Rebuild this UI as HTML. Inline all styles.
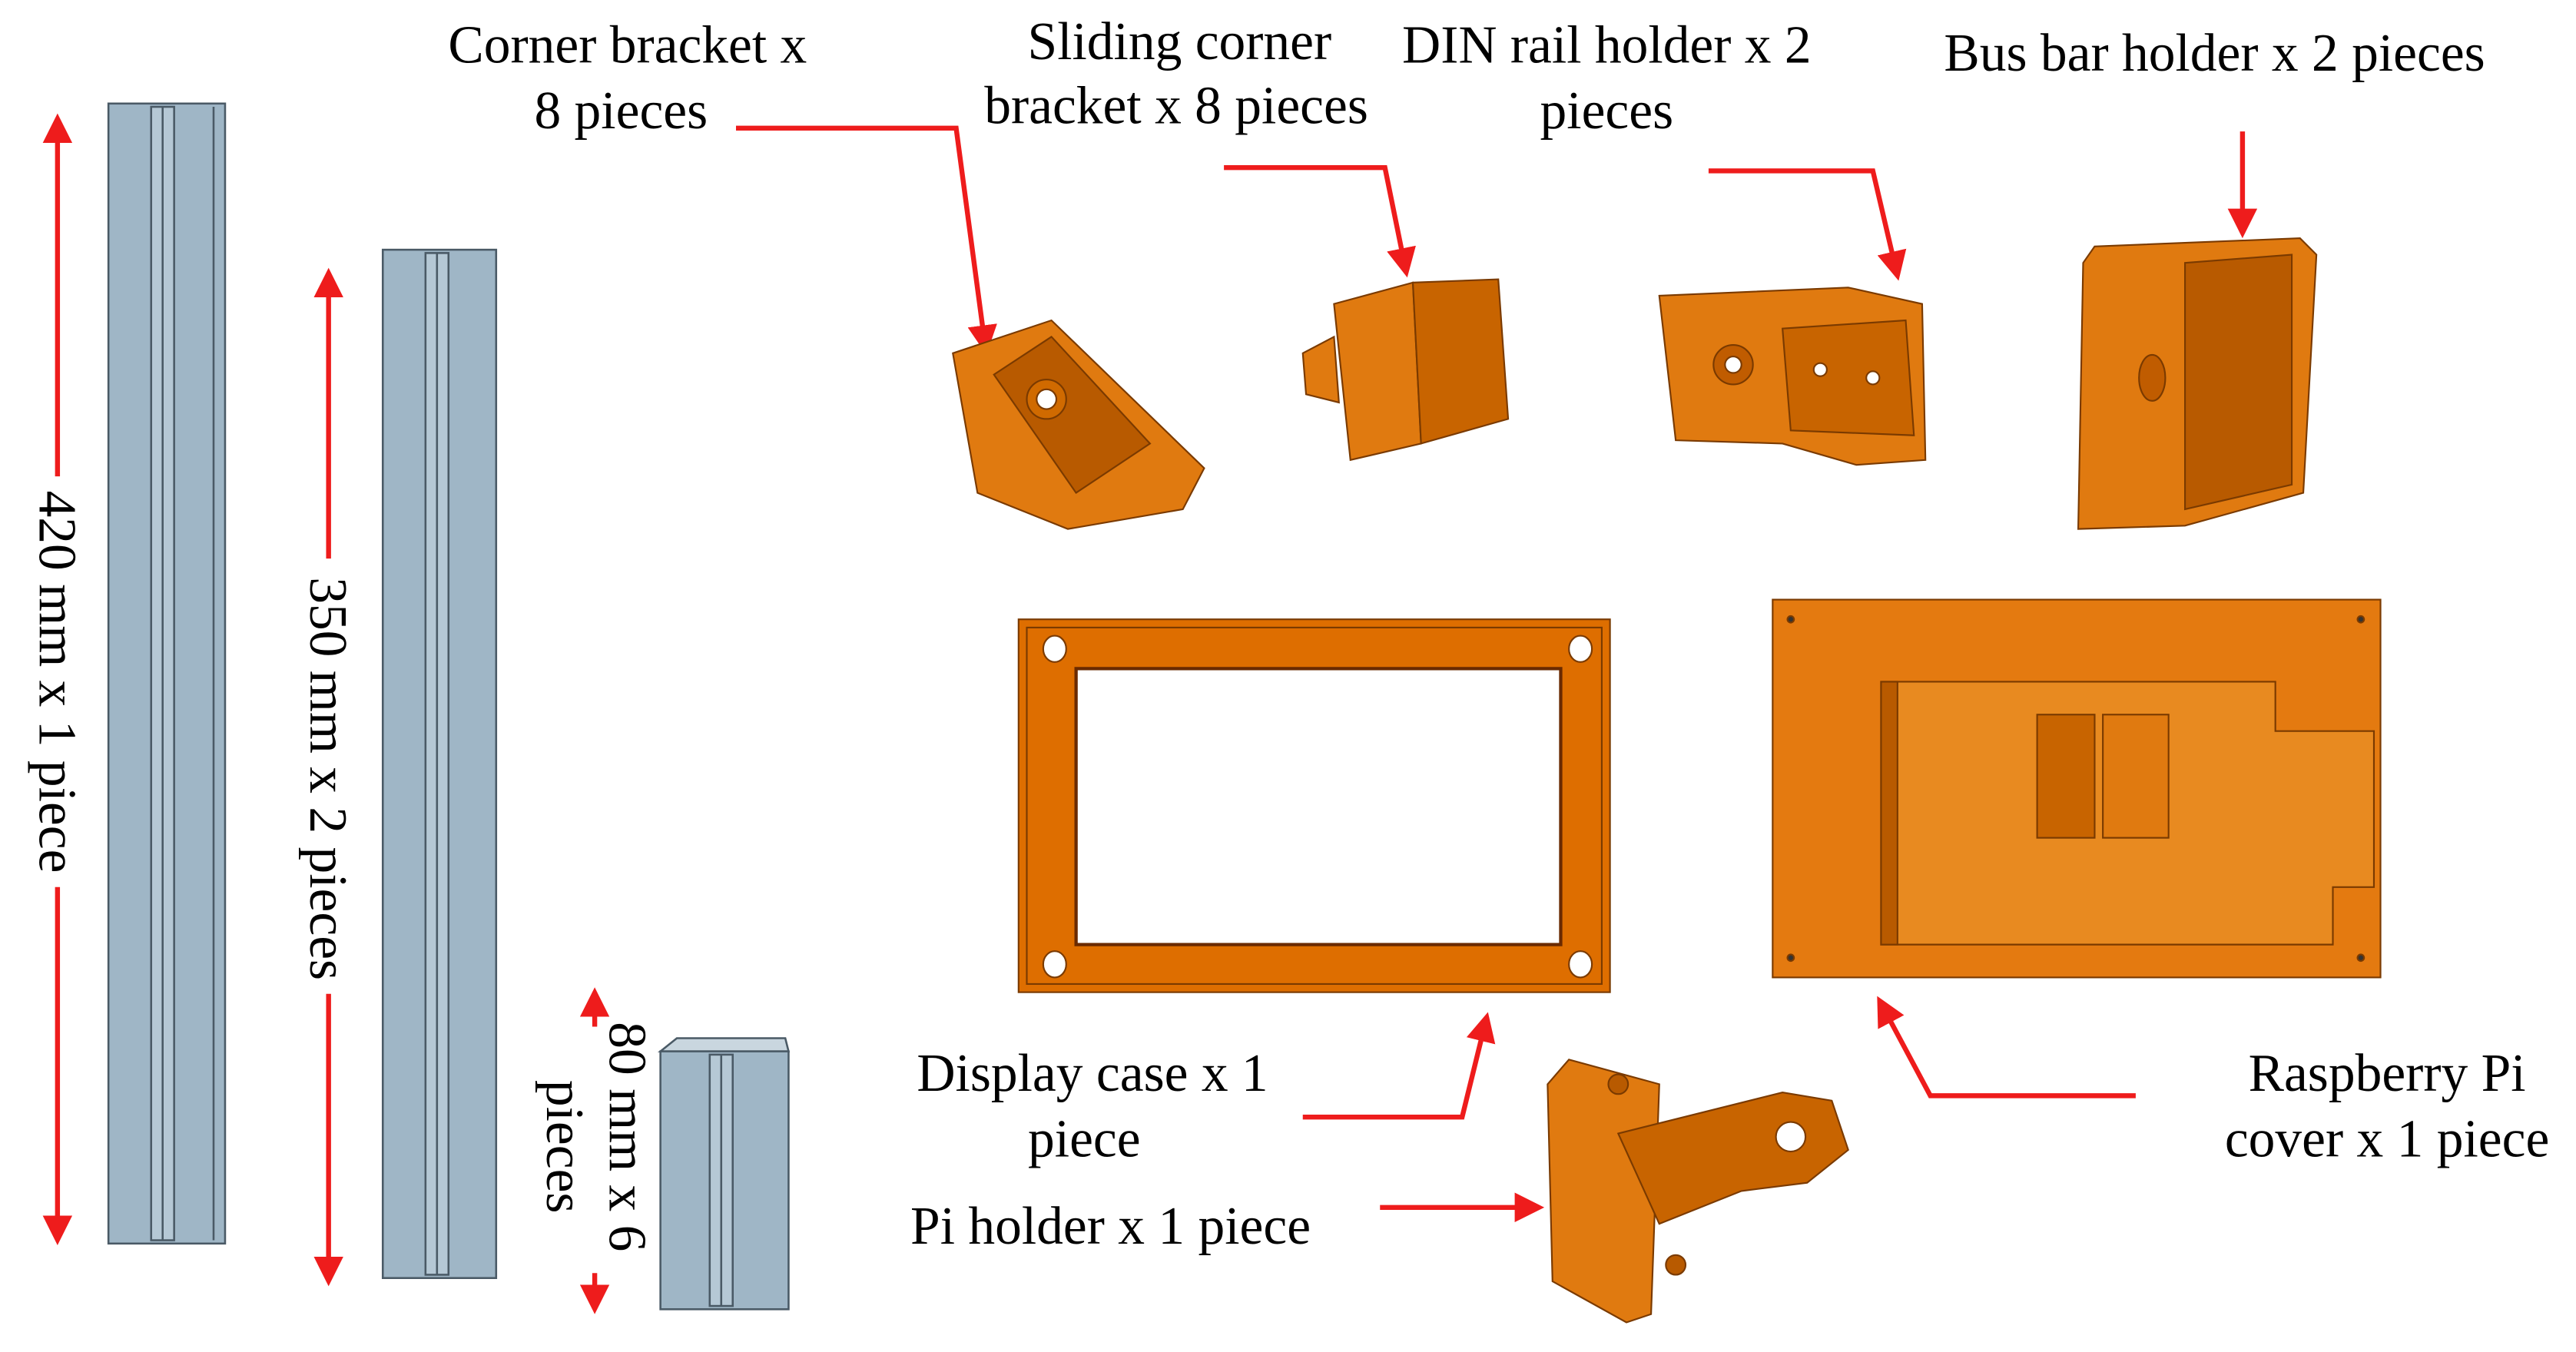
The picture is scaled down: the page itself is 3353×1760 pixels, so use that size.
<!DOCTYPE html>
<html><head><meta charset="utf-8"><style>html,body{margin:0;padding:0;background:#fff}svg{display:block}</style></head>
<body>
<svg width="3353" height="1760" viewBox="0 0 1568 823" xmlns="http://www.w3.org/2000/svg" font-family="'Liberation Serif',serif" font-size="32.5" fill="#000">
<defs>
<marker id="ah" markerWidth="6" markerHeight="6" refX="5" refY="3" orient="auto" markerUnits="strokeWidth"><path d="M0,0 L6,3 L0,6 z" fill="#ee1c1c"/></marker>
</defs>
<rect width="1568" height="823" fill="#fff"/>
<g stroke="#4a5a66" stroke-width="1.2">
<rect x="66" y="63" width="71" height="694" fill="#9fb6c6"/>
<rect x="92" y="65" width="14" height="690" fill="#b5c8d5"/>
<line x1="99" y1="65" x2="99" y2="755"/>
<line x1="130" y1="65" x2="130" y2="755"/>
<rect x="233" y="152" width="69" height="626" fill="#9fb6c6"/>
<rect x="259" y="154" width="14" height="622" fill="#b5c8d5"/>
<line x1="266" y1="154" x2="266" y2="776"/>
<polygon points="402,640 412,632 478,632 480,640" fill="#c9d6df"/>
<rect x="402" y="640" width="78" height="157" fill="#9fb6c6"/>
<rect x="432" y="642" width="14" height="153" fill="#b5c8d5"/>
<line x1="439" y1="642" x2="439" y2="795"/>
</g>
<g stroke="#ee1c1c" stroke-width="3" fill="none">
<line x1="35" y1="290" x2="35" y2="72" marker-end="url(#ah)"/>
<line x1="35" y1="540" x2="35" y2="755" marker-end="url(#ah)"/>
<line x1="200" y1="340" x2="200" y2="166" marker-end="url(#ah)"/>
<line x1="200" y1="605" x2="200" y2="780" marker-end="url(#ah)"/>
<line x1="362" y1="625" x2="362" y2="604" marker-end="url(#ah)"/>
<line x1="362" y1="775" x2="362" y2="797" marker-end="url(#ah)"/>
</g>
<text transform="translate(24,415) rotate(90)" text-anchor="middle">420 mm x 1 piece</text>
<text transform="translate(189,474) rotate(90)" text-anchor="middle">350 mm x 2 pieces</text>
<text transform="translate(371,692) rotate(90)" text-anchor="middle">80 mm x 6</text>
<text transform="translate(333,698) rotate(90)" text-anchor="middle">pieces</text>
<text x="382" y="38" text-anchor="middle">Corner bracket x</text>
<text x="378" y="78" text-anchor="middle">8 pieces</text>
<text x="718" y="36" text-anchor="middle">Sliding corner</text>
<text x="716" y="75" text-anchor="middle">bracket x 8 pieces</text>
<text x="978" y="38" text-anchor="middle">DIN rail holder x 2</text>
<text x="978" y="78" text-anchor="middle">pieces</text>
<text x="1348" y="43" text-anchor="middle">Bus bar holder x 2 pieces</text>
<text x="665" y="664" text-anchor="middle">Display case x 1</text>
<text x="660" y="704" text-anchor="middle">piece</text>
<text x="676" y="757" text-anchor="middle">Pi holder x 1 piece</text>
<text x="1453" y="664" text-anchor="middle">Raspberry Pi</text>
<text x="1453" y="704" text-anchor="middle">cover x 1 piece</text>
<g stroke="#ee1c1c" stroke-width="3" fill="none">
<polyline points="448,78 582,78 600,213" marker-end="url(#ah)"/>
<polyline points="745,102 843,102 856,166" marker-end="url(#ah)"/>
<polyline points="1040,104 1140,104 1155,168" marker-end="url(#ah)"/>
<line x1="1365" y1="80" x2="1365" y2="142" marker-end="url(#ah)"/>
<polyline points="793,680 890,680 905,619" marker-end="url(#ah)"/>
<line x1="840" y1="735" x2="937" y2="735" marker-end="url(#ah)"/>
<polyline points="1300,667 1175,667 1144,609" marker-end="url(#ah)"/>
</g>
<g stroke="#7a3a00" stroke-width="1">
<polygon points="580,215 640,195 733,285 720,310 650,322 595,300" fill="#e07a10"/>
<polygon points="605,228 640,205 700,270 655,300" fill="#b85a00"/>
<circle cx="637" cy="243" r="12" fill="#d06a00"/><circle cx="637" cy="243" r="6" fill="#fff"/>
<polygon points="812,185 860,172 865,270 822,280" fill="#e07a10"/>
<polygon points="860,172 912,170 918,255 865,270" fill="#c86400"/>
<polygon points="793,215 812,205 815,245 795,240" fill="#e07a10"/>
<polygon points="1010,180 1125,175 1170,185 1172,280 1130,283 1085,270 1020,268" fill="#e07a10"/>
<polygon points="1085,200 1160,195 1165,265 1090,262" fill="#c86400"/>
<circle cx="1055" cy="222" r="12" fill="#c05c00"/><circle cx="1055" cy="222" r="5" fill="#fff"/>
<circle cx="1108" cy="225" r="4" fill="#fff"/><circle cx="1140" cy="230" r="4" fill="#fff"/>
<polygon points="1275,150 1400,145 1410,155 1402,300 1330,320 1265,322 1268,160" fill="#e07a10"/>
<polygon points="1330,160 1395,155 1395,295 1330,310" fill="#b85a00"/>
<ellipse cx="1310" cy="230" rx="8" ry="14" fill="#c05c00"/>
<rect x="620" y="377" width="360" height="227" fill="#de6e00"/>
<rect x="625" y="382" width="350" height="217" fill="none" stroke="#7a3a00"/>
<rect x="655" y="407" width="295" height="168" fill="#fff" stroke="#6a2a00" stroke-width="2"/>
<ellipse cx="642" cy="395" rx="7" ry="8" fill="#fff"/><ellipse cx="962" cy="395" rx="7" ry="8" fill="#fff"/>
<ellipse cx="642" cy="587" rx="7" ry="8" fill="#fff"/><ellipse cx="962" cy="587" rx="7" ry="8" fill="#fff"/>
<rect x="1079" y="365" width="370" height="230" fill="#e47a10"/>
<polygon points="1145,415 1385,415 1385,445 1445,445 1445,540 1420,540 1420,575 1145,575" fill="#e88a20"/>
<rect x="1145" y="415" width="10" height="160" fill="#b85a00"/>
<rect x="1240" y="435" width="35" height="75" fill="#c86400"/><rect x="1280" y="435" width="40" height="75" fill="#e07a10"/>
<circle cx="1090" cy="377" r="2" fill="#333"/><circle cx="1437" cy="377" r="2" fill="#333"/>
<circle cx="1090" cy="583" r="2" fill="#333"/><circle cx="1437" cy="583" r="2" fill="#333"/>
<polygon points="942,660 955,645 1010,660 1005,800 990,805 945,780" fill="#e07a10"/>
<polygon points="985,690 1085,665 1115,670 1125,700 1100,720 1060,725 1010,745" fill="#c86400"/>
<circle cx="1090" cy="692" r="9" fill="#fff"/>
<circle cx="985" cy="660" r="6" fill="#b85a00"/><circle cx="1020" cy="770" r="6" fill="#b85a00"/>
</g>
</svg>
</body></html>
